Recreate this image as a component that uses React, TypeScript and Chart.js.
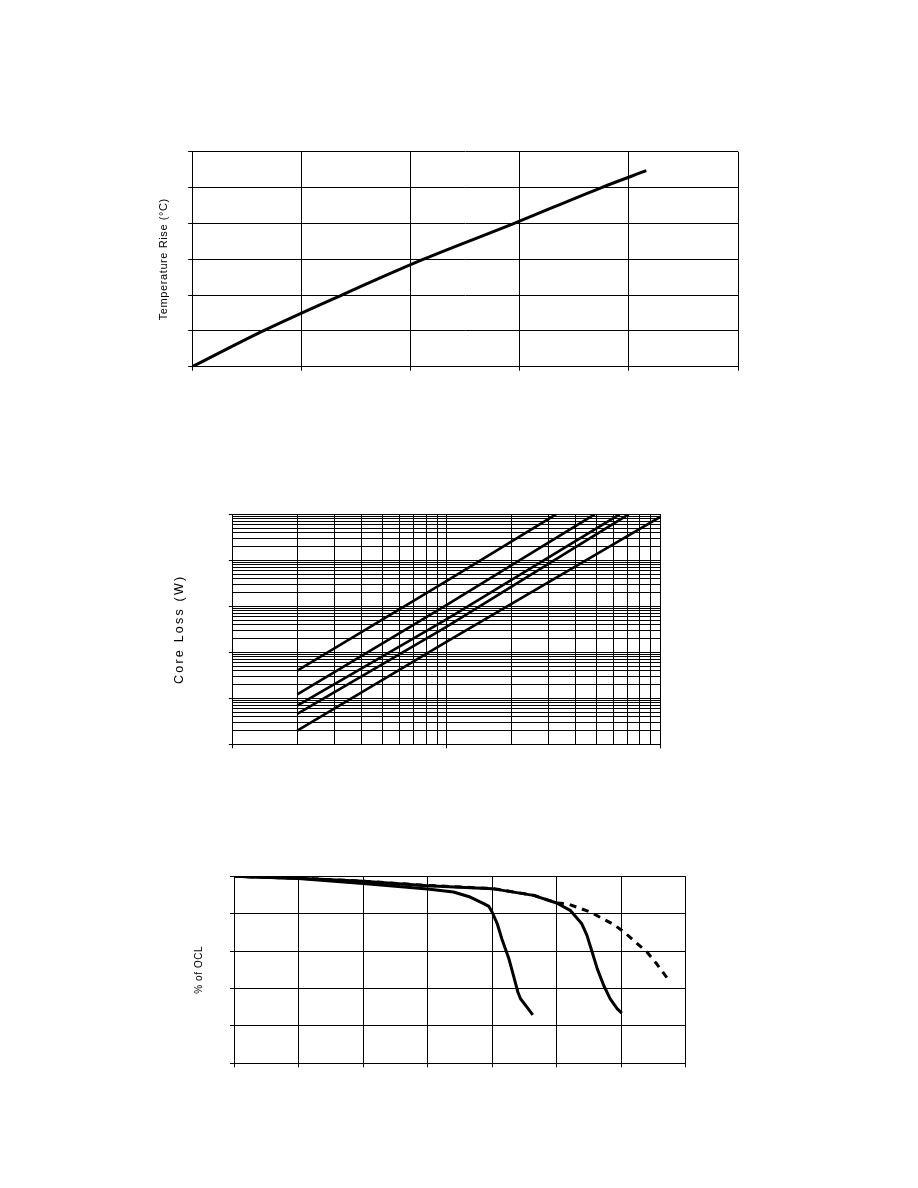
import React, { useEffect, useRef } from "react";
import { Chart, registerables } from "chart.js";

Chart.register(...registerables);

// ---------- Chart 1: Temperature rise ----------
const TEMP_X = [0, 0.65, 1.37, 2.12, 2.95, 3.75, 4.16];
const TEMP_Y = [0, 1, 2, 3, 4, 5, 5.47];

// ---------- Chart 2: Core loss (log-log) ----------
const CL_X_1 = [200, 1000, 3243];
const CL_Y_1 = [0.0398, 3.55, 100];
const CL_X_2 = [200, 1000, 4909];
const CL_Y_2 = [0.0122, 1.07, 100];
const CL_X_3 = [200, 1000, 6427];
const CL_Y_3 = [0.00692, 0.525, 100];
const CL_X_4 = [200, 1000, 7079];
const CL_Y_4 = [0.00457, 0.363, 100];
const CL_X_5 = [200, 1000, 10000];
const CL_Y_5 = [0.00198, 0.17, 89];

// ---------- Chart 3: % of OCL ----------
const OCL_A_X = [0, 1, 2, 3, 3.4, 3.66, 3.87, 3.95, 4.0, 4.08, 4.15, 4.26, 4.33, 4.4, 4.44, 4.54, 4.63];
const OCL_A_Y = [100, 98.8, 96.2, 93.2, 91.6, 88.9, 85.4, 83.9, 80.9, 74.6, 66.6, 55.9, 47, 38, 34.5, 30, 25.9];
const OCL_B_X = [0, 1, 2, 3, 4, 4.64, 5.0, 5.21, 5.39, 5.47, 5.55, 5.63, 5.73, 5.83, 5.94, 6.01];
const OCL_B_Y = [100, 98.9, 97.3, 95, 93.4, 89.8, 85.7, 81.8, 74.6, 68.4, 59.5, 50.5, 41.6, 34.5, 29.1, 26.8];
const OCL_C_X = [0, 1, 2, 3, 4, 4.64, 5.0, 5.16, 5.52, 5.88, 6.06, 6.22, 6.4, 6.55, 6.71];
const OCL_C_Y = [100, 99, 97.4, 95.1, 93.5, 89.9, 85.8, 85.4, 80.9, 74.3, 69.8, 64.8, 59.5, 53.2, 45.7];

const W = 918;
const FONT = "'Liberation Sans', Arial, sans-serif";

const pts = (xs: number[], ys: number[]) => xs.map((x, i) => ({ x, y: ys[i] }));

const isDecade = (v: number) => {
  const l = Math.log10(v);
  return Math.abs(l - Math.round(l)) < 1e-6;
};

const decadeTicks = (minExp: number, maxExp: number) => {
  const out: { value: number; major: boolean }[] = [];
  for (let e = minExp; e < maxExp; e++) {
    for (let k = 1; k < 10; k++) out.push({ value: k * Math.pow(10, e), major: k === 1 });
  }
  out.push({ value: Math.pow(10, maxExp), major: true });
  return out;
};

const spacingPlugin = (px: string) => ({
  id: "letterSpacing",
  beforeDraw(chart: any) {
    chart.ctx.letterSpacing = px;
  },
});

const baseGrid = { color: "#000", lineWidth: 1, drawTicks: true, tickLength: 4, tickColor: "#000" };
const baseBorder = { display: true, color: "#000", width: 1 };

function lineDs(data: any[], width: number, dash: number[] = [], smooth = false) {
  return {
    data,
    borderColor: "#000",
    backgroundColor: "#000",
    borderWidth: width,
    borderDash: dash,
    pointRadius: 0,
    tension: smooth ? 0.4 : 0,
    cubicInterpolationMode: smooth ? "monotone" : "default",
    fill: false,
    borderCapStyle: "butt",
    borderJoinStyle: "round",
  };
}

function commonOptions(padding: any) {
  return {
    responsive: false,
    animation: false,
    devicePixelRatio: 1,
    layout: { padding },
    plugins: { legend: { display: false }, tooltip: { enabled: false }, title: { display: false } },
    events: [],
  };
}

function config1() {
  return {
    type: "line",
    data: { datasets: [lineDs(pts(TEMP_X, TEMP_Y), 3, [], true)] },
    options: {
      ...commonOptions({ left: 153, right: 180, top: 51.7, bottom: 29.3 }),
      scales: {
        x: { type: "linear", min: 0, max: 5, ticks: { display: false, stepSize: 1 }, grid: baseGrid, border: baseBorder },
        y: {
          type: "linear",
          min: 0,
          max: 6,
          ticks: { display: false, stepSize: 1 },
          grid: baseGrid,
          border: baseBorder,
          title: {
            display: true,
            text: "Temperature Rise (°C)",
            color: "#000",
            font: { family: FONT, size: 11 },
            padding: { top: 4, bottom: 18 },
          },
        },
      },
    },
    plugins: [spacingPlugin("0.6px")],
  };
}

function config2() {
  const logGrid = {
    ...baseGrid,
    tickColor: (ctx: any) => (ctx.tick && isDecade(ctx.tick.value) ? "#000" : "rgba(0,0,0,0)"),
  };
  return {
    type: "line",
    data: {
      datasets: [
        lineDs(pts(CL_X_1, CL_Y_1), 2.6),
        lineDs(pts(CL_X_2, CL_Y_2), 2.6),
        lineDs(pts(CL_X_3, CL_Y_3), 2.6),
        lineDs(pts(CL_X_4, CL_Y_4), 2.6),
        lineDs(pts(CL_X_5, CL_Y_5), 2.6),
      ],
    },
    options: {
      ...commonOptions({ left: 167.9, right: 257.3, top: 54.3, bottom: 41.7 }),
      scales: {
        x: {
          type: "logarithmic",
          min: 100,
          max: 10000,
          ticks: { display: false },
          afterBuildTicks: (s: any) => {
            s.ticks = decadeTicks(2, 4);
          },
          grid: logGrid,
          border: baseBorder,
        },
        y: {
          type: "logarithmic",
          min: 0.001,
          max: 100,
          ticks: { display: false },
          afterBuildTicks: (s: any) => {
            s.ticks = decadeTicks(-3, 2);
          },
          grid: logGrid,
          border: baseBorder,
          title: {
            display: true,
            text: "Core Loss (W)",
            color: "#000",
            font: { family: FONT, size: 12.5 },
            padding: { top: 4, bottom: 42 },
          },
        },
      },
    },
    plugins: [spacingPlugin("2.2px")],
  };
}

function config3() {
  return {
    type: "line",
    data: {
      datasets: [
        lineDs(pts(OCL_C_X, OCL_C_Y), 3, [7, 6]),
        lineDs(pts(OCL_B_X, OCL_B_Y), 3),
        lineDs(pts(OCL_A_X, OCL_A_Y), 3),
      ],
    },
    options: {
      ...commonOptions({ left: 189, right: 232.3, top: 46.3, bottom: 42.7 }),
      scales: {
        x: { type: "linear", min: 0, max: 7, ticks: { display: false, stepSize: 1 }, grid: baseGrid, border: baseBorder },
        y: {
          type: "linear",
          min: 0,
          max: 100,
          ticks: { display: false, stepSize: 20 },
          grid: baseGrid,
          border: baseBorder,
          title: {
            display: true,
            text: "% of OCL",
            color: "#000",
            font: { family: FONT, size: 10 },
            padding: { top: 4, bottom: 25 },
          },
        },
      },
    },
    plugins: [spacingPlugin("0.6px")],
  };
}

function ChartCanvas({ top, height, make }: { top: number; height: number; make: () => any }) {
  const ref = useRef<HTMLCanvasElement>(null);
  useEffect(() => {
    const chart = new Chart(ref.current as HTMLCanvasElement, make() as any);
    return () => chart.destroy();
  }, []);
  return (
    <canvas
      ref={ref}
      width={W}
      height={height}
      style={{ position: "absolute", left: 0, top, width: W, height, display: "block" }}
    />
  );
}

export default function App() {
  return (
    <div style={{ position: "absolute", left: 0, top: 0, width: W, height: 1188, background: "#fff" }}>
      <ChartCanvas top={100} height={300} make={config1} />
      <ChartCanvas top={460} height={330} make={config2} />
      <ChartCanvas top={830} height={280} make={config3} />
    </div>
  );
}
